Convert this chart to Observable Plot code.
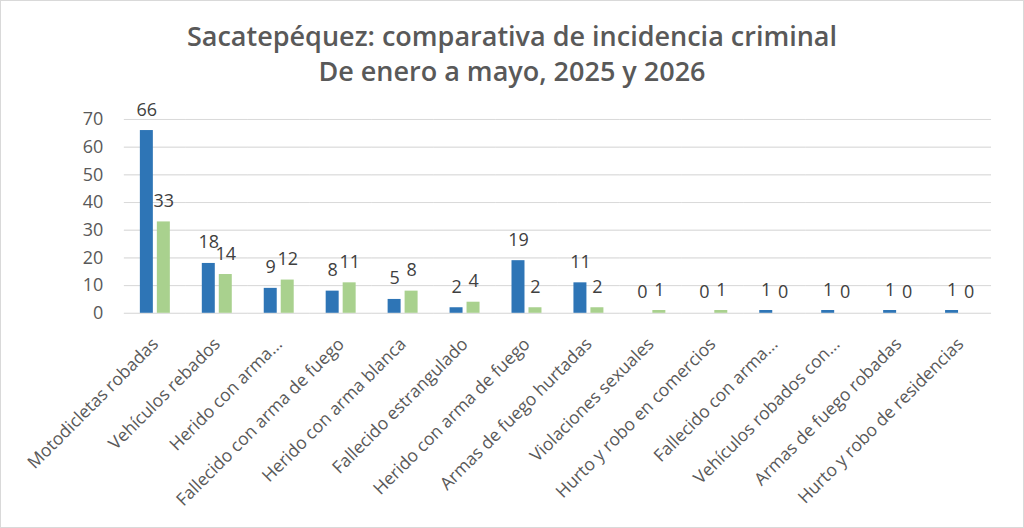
<!DOCTYPE html>
<html>
<head>
<meta charset="utf-8">
<script src="https://cdn.jsdelivr.net/npm/d3@7"></script>
<script src="https://cdn.jsdelivr.net/npm/@observablehq/plot@0.6"></script>
<style>
  html, body { margin: 0; padding: 0; background: #fff; }
  #wrap { position: relative; width: 1022px; height: 526px; border: 1px solid #d9d9d9; overflow: hidden; background: #fff; }
  #title { position: absolute; left: 0; top: 17px; width: 1022px; text-align: center; font-family: "Open Sans", sans-serif; font-weight: 600; font-size: 27px; line-height: 35px; color: #595959; }
  #chart { position: absolute; left: -1px; top: 93px; }
</style>
</head>
<body>
<div id="wrap">
  <div id="title">Sacatepéquez: comparativa de incidencia criminal<br>De enero a mayo, 2025 y 2026</div>
  <div id="chart"></div>
</div>
<script>
const categories = [
  "Motodicletas robadas",
  "Vehículos rebados",
  "Herido con arma...",
  "Fallecido con arma de fuego",
  "Herido con arma blanca",
  "Fallecido estrangulado",
  "Herido con arma de fuego",
  "Armas de fuego hurtadas",
  "Violaciones sexuales",
  "Hurto y robo en comercios",
  "Fallecido con arma...",
  "Vehículos robados con...",
  "Armas de fuego robadas",
  "Hurto y robo de residencias"
];
const series = ["2025", "2026"];
const values2025 = [66, 18, 9, 8, 5, 2, 19, 11, 0, 0, 1, 1, 1, 1];
const values2026 = [33, 14, 12, 11, 8, 4, 2, 2, 1, 1, 0, 0, 0, 0];
const yTicks = [0, 10, 20, 30, 40, 50, 60, 70];
const colors = ["#2E75B6", "#A9D18E"];

const rows = [];
categories.forEach((c, i) => {
  rows.push({cat: c, serie: series[0], value: values2025[i]});
  rows.push({cat: c, serie: series[1], value: values2026[i]});
});

const plot = Plot.plot({
  width: 1024,
  height: 432,
  marginTop: 25,
  marginBottom: 213,
  marginLeft: 121,
  marginRight: 29,
  style: {fontFamily: "'Open Sans', sans-serif", color: "#595959", background: "transparent"},
  fx: {domain: categories, padding: 0, label: null, tickRotate: -45, tickSize: 0, tickPadding: 28},
  x: {domain: series, axis: null, paddingInner: 0.222, paddingOuter: 0.844},
  y: {domain: [0, 70], ticks: yTicks, label: null, tickSize: 0, tickPadding: 21, grid: true},
  color: {domain: series, range: colors},
  marks: [
    Plot.gridY(yTicks, {stroke: "#d9d9d9", strokeOpacity: 1}),
    Plot.barY(rows, {fx: "cat", x: "serie", y: "value", fill: "serie"}),
    Plot.text(rows, {fx: "cat", x: "serie", y: "value", text: d => String(d.value), lineAnchor: "bottom", dy: -15, fontSize: 18, fill: "#404040"})
  ]
});
plot.querySelectorAll("g[aria-label='fx-axis tick label'] text, g[aria-label='y-axis tick label'] text").forEach(t => t.setAttribute("fill", "#595959"));
const yl = plot.querySelector("g[aria-label='y-axis tick label']");
if (yl) yl.setAttribute("font-size", "18");
const fl = plot.querySelector("g[aria-label='fx-axis tick label']");
if (fl) fl.setAttribute("font-size", "17.5");
document.getElementById("chart").appendChild(plot);
</script>
</body>
</html>
